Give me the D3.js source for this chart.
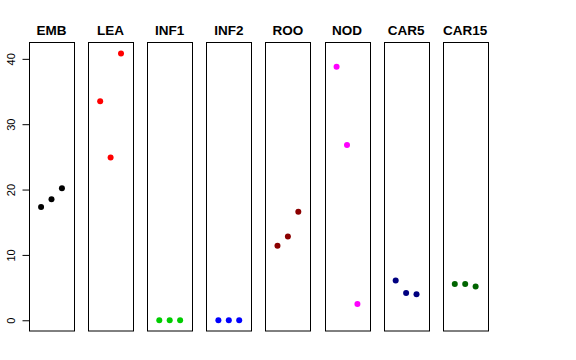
<!DOCTYPE html>
<html><head><meta charset="utf-8">
<script src="https://cdn.jsdelivr.net/npm/d3@7"></script>
<style>body{margin:0;background:#fff}svg{display:block}</style>
</head><body>
<script>
const categories = ["EMB","LEA","INF1","INF2","ROO","NOD","CAR5","CAR15"];
const colors = ["#000000","#ff0000","#00cd00","#0000ff","#8b0000","#ff00ff","#000080","#006400"];
const values = [
  [17.35, 18.5, 20.2],
  [33.5, 24.9, 40.8],
  [0.02, 0.02, 0.02],
  [0.02, 0.02, 0.02],
  [11.4, 12.8, 16.6],
  [38.8, 26.8, 2.5],
  [6.07, 4.18, 3.98],
  [5.56, 5.56, 5.15]
];
const yTicks = [0,10,20,30,40];

const W=576,H=360;
const svg=d3.select("body").append("svg").attr("width",W).attr("height",H);
const y=d3.scaleLinear().domain([-1.64,42.47]).range([331,42.7]);
const panel=d3.scaleBand().domain(categories).range([29,487.7]).paddingInner(0.2386).paddingOuter(0);
const x=d3.scaleLinear().domain([-0.16,4.16]);

categories.forEach((c,i)=>{
  const x0=panel(c), w=panel.bandwidth();
  const g=svg.append("g");
  g.append("rect").attr("x",Math.round(x0)+0.5).attr("y",42.5).attr("width",Math.round(w)).attr("height",288.5)
    .attr("fill","none").attr("stroke","#000").attr("stroke-width",1);
  g.append("text").attr("x",x0+w/2).attr("y",35).attr("text-anchor","middle")
    .attr("font-family","Liberation Sans, Arial, sans-serif").attr("font-weight","bold").attr("font-size",13.5)
    .text(c);
  x.range([x0,x0+w]);
  g.selectAll("circle").data(values[i]).enter().append("circle")
    .attr("cx",(d,j)=>x(j+1)).attr("cy",d=>y(d)).attr("r",3).attr("fill",colors[i]);
});

const ax=svg.append("g").attr("transform","translate(29.5,0)")
  .call(d3.axisLeft(y).tickValues(yTicks).tickSize(7).tickPadding(4));
ax.select(".domain").remove();
ax.append("line").attr("x1",0).attr("x2",0).attr("y1",y(0)).attr("y2",y(40)).attr("stroke","#000");
ax.selectAll(".tick line").attr("stroke","#000");
ax.selectAll(".tick text").attr("font-family","Liberation Sans, Arial, sans-serif").attr("font-size",11)
  .attr("fill","#000").attr("transform","rotate(-90)").attr("x",0).attr("y",-15).attr("dy","0")
  .attr("text-anchor","middle");
</script>
</body></html>
